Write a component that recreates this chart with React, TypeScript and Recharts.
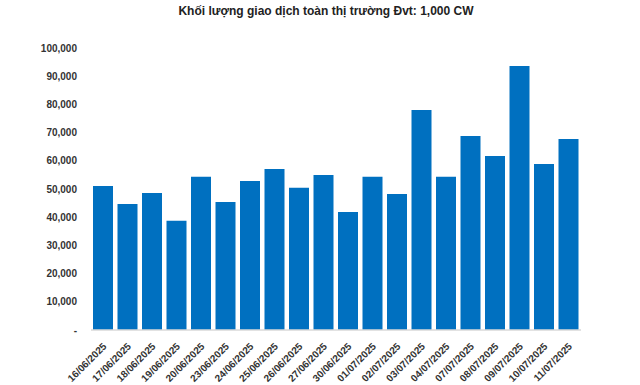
import { BarChart, Bar, XAxis, YAxis } from "recharts";

const dates = [
  "16/06/2025", "17/06/2025", "18/06/2025", "19/06/2025", "20/06/2025",
  "23/06/2025", "24/06/2025", "25/06/2025", "26/06/2025", "27/06/2025",
  "30/06/2025", "01/07/2025", "02/07/2025", "03/07/2025", "04/07/2025",
  "07/07/2025", "08/07/2025", "09/07/2025", "10/07/2025", "11/07/2025",
];

const volumes = [
  51100, 44700, 48600, 38700, 54300,
  45400, 52800, 57100, 50400, 55000,
  41800, 54300, 48200, 78000, 54300,
  68800, 61700, 93600, 58900, 67700,
];

const yTicks = [0, 10000, 20000, 30000, 40000, 50000, 60000, 70000, 80000, 90000, 100000];

const title = "Khối lượng giao dịch toàn thị trường Đvt: 1,000 CW";

const data = dates.map((d, i) => ({ date: d, value: volumes[i] }));

const fmtY = (v: number) => (v === 0 ? "-" : v.toLocaleString("en-US"));

const DateTick = ({ x, y, payload }: any) => (
  <text
    x={x + 4}
    y={y + 9}
    transform={`rotate(-45, ${x + 4}, ${y + 9})`}
    textAnchor="end"
    fontSize={10}
    fontWeight="bold"
    fill="#333"
    fontFamily="'Liberation Sans', Arial, sans-serif"
  >
    {payload.value}
  </text>
);

export default function App() {
  return (
    <div
      style={{
        position: "absolute",
        left: 0,
        top: 0,
        width: 640,
        height: 385,
        background: "#fff",
        fontFamily: "'Liberation Sans', Arial, sans-serif",
      }}
    >
      <div
        style={{
          position: "absolute",
          top: 4,
          left: 0,
          width: 652,
          textAlign: "center",
          fontSize: 12,
          fontWeight: "bold",
          color: "#222",
        }}
      >
        {title}
      </div>
      <BarChart
        width={640}
        height={385}
        data={data}
        margin={{ top: 48, right: 59, left: 0, bottom: 0 }}
      >
        <XAxis
          dataKey="date"
          interval={0}
          height={55}
          tickLine={false}
          axisLine={{ stroke: "#d9d9d9", strokeWidth: 1.5 }}
          tick={<DateTick />}
        />
        <YAxis
          width={91}
          domain={[0, 100000]}
          ticks={yTicks}
          tickFormatter={fmtY}
          axisLine={false}
          tickLine={false}
          tickSize={0}
          tickMargin={14}
          tick={{ fontSize: 10, fontWeight: "bold", fill: "#333" }}
        />
        <Bar dataKey="value" fill="#0070C0" barSize={20} isAnimationActive={false} />
      </BarChart>
    </div>
  );
}
